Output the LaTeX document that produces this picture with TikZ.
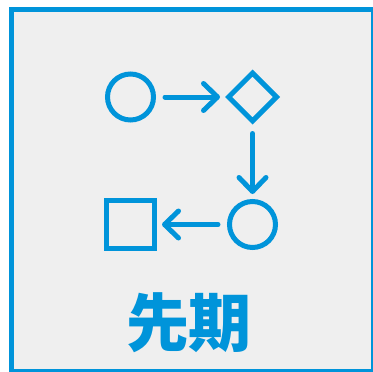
\documentclass[tikz,border=0pt]{standalone}
\usepackage{fontspec}
\newfontfamily\cjk{Noto Sans CJK SC}
\usetikzlibrary{shapes.geometric,arrows.meta}
\definecolor{ablue}{RGB}{0,148,218}
\definecolor{bggray}{RGB}{239,239,239}
\tikzset{
  shp/.style={draw=ablue, line width=5pt, inner sep=0pt},
  arr/.style={draw=ablue, line width=5pt, line cap=round, line join=round,
    -{Straight Barb[length=14pt,width=27pt,line cap=round,line join=round]}},
}
\begin{document}
\begin{tikzpicture}[x=1pt,y=-1pt]
\useasboundingbox (0,0) rectangle (373,372);
\clip (0,0) rectangle (373,372);
\fill[white] (0,0) rectangle (373,372);
\draw[draw=ablue, fill=bggray, line width=5.5pt] (11.5,9.5) rectangle (374,372);
\node[shp, circle, minimum size=46pt] (c1) at (130.5,97) {};
\node[shp, diamond, minimum size=50pt] (d1) at (252.5,97) {};
\node[shp, circle, minimum size=46pt] (c2) at (252.5,224.5) {};
\node[shp, rectangle, minimum size=48pt] (s1) at (130.5,224.5) {};
\draw[arr] ([xshift=9pt]c1.east) -- ([xshift=-5pt]d1.west);
\draw[arr] ([yshift=-9pt]d1.south) -- ([yshift=5pt]c2.north);
\draw[arr] ([xshift=-9pt]c2.west) -- ([xshift=5pt]s1.east);
\node[text=ablue, font=\cjk\bfseries\fontsize{63}{63}\selectfont, inner sep=0pt] (t) at (189,323) {先期};
\end{tikzpicture}
\end{document}
